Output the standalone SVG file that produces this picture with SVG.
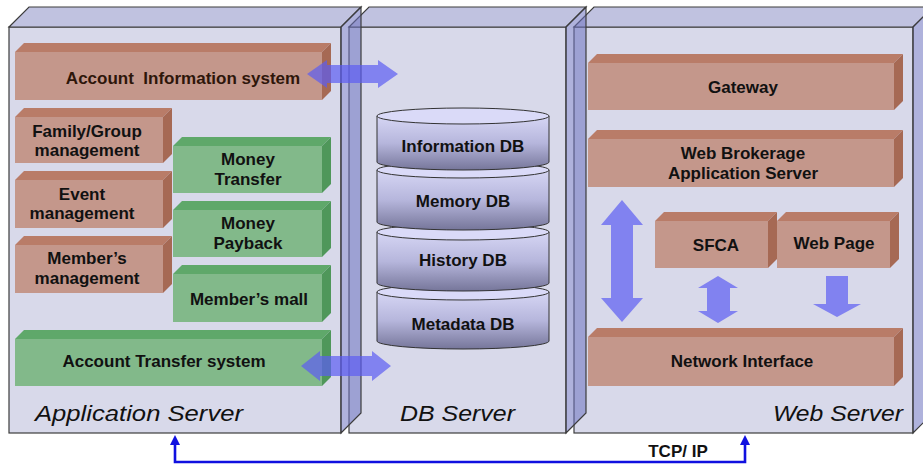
<svg xmlns="http://www.w3.org/2000/svg" width="923" height="465" viewBox="0 0 923 465">
<defs>
<style>
.sf{fill:#D8D9EA;stroke:#3c3c3c;stroke-width:1.2}
.st{fill:#C0C2E0;stroke:#3c3c3c;stroke-width:1.2}
.ss{fill:#6E72C0;fill-opacity:0.55;stroke:#3c3c3c;stroke-width:1.2}
.bf{fill:#C4978B}.bt{fill:#B97C68}.bs{fill:#A66954}
.gf{fill:#82B98A}.gt{fill:#5FA86A}.gs{fill:#4F975A}
.t{font-family:"Liberation Sans",Arial,sans-serif;font-weight:bold;font-size:17px;fill:#111;text-anchor:middle}
.sl{font-family:"Liberation Sans",Arial,sans-serif;font-style:italic;font-size:22px;fill:#111}
.ba{fill:#5C5CF2;fill-opacity:0.7}
.cb{fill:url(#cylg);stroke:#333;stroke-width:1}
.ct{fill:#DADAF8;stroke:#333;stroke-width:1}
</style>
<linearGradient id="cylg" x1="0" y1="0" x2="0" y2="1">
<stop offset="0" stop-color="#D6D6F4"/>
<stop offset="0.5" stop-color="#B6B6DC"/>
<stop offset="1" stop-color="#76769A"/>
</linearGradient>
<marker id="ah" viewBox="0 0 10 10" refX="2" refY="5" markerWidth="10" markerHeight="10" markerUnits="userSpaceOnUse" orient="auto-start-reverse">
<path d="M0,0 L10,5 L0,10 Z" fill="#1010E0"/>
</marker>
</defs>
<rect width="923" height="465" fill="#fff"/>

<g id="web-server">
<rect class="sf" x="574" y="27" width="339" height="406"/>
<polygon class="st" points="574,27 594,7 933,7 913,27"/>
<polygon class="ss" points="913,27 933,7 933,413 913,433"/>
<text class="sl" x="773" y="421" textLength="130" lengthAdjust="spacingAndGlyphs">Web Server</text>
</g>
<g id="db-server">
<rect class="sf" x="349" y="27" width="217" height="406"/>
<polygon class="st" points="349,27 369,7 586,7 566,27"/>
<polygon class="ss" points="566,27 586,7 586,413 566,433"/>
<text class="sl" x="400" y="421" textLength="115" lengthAdjust="spacingAndGlyphs">DB Server</text>
</g>
<g id="app-server">
<rect class="sf" x="9" y="27" width="332" height="406"/>
<polygon class="st" points="9,27 29,7 361,7 341,27"/>
<polygon class="ss" points="341,27 361,7 361,413 341,433"/>
<text class="sl" x="35" y="421" textLength="208" lengthAdjust="spacingAndGlyphs">Application Server</text>
</g>

<g id="account-information-system">
<polygon class="bt" points="15,52 24,43 331,43 322,52"/>
<polygon class="bs" points="322,52 331,43 331,91 322,100"/>
<rect class="bf" x="15" y="52" width="307" height="48"/>
<text class="t" x="183" y="84" style="fill:#2e160a">Account&#160; Information system</text>
</g>
<g id="family-group-management">
<polygon class="bt" points="15,117 24,108 172,108 163,117"/>
<polygon class="bs" points="163,117 172,108 172,154 163,163"/>
<rect class="bf" x="15" y="117" width="148" height="46"/>
<text class="t" x="87" y="137">Family/Group</text>
<text class="t" x="87" y="156">management</text>
</g>
<g id="event-management">
<polygon class="bt" points="15,180 24,171 172,171 163,180"/>
<polygon class="bs" points="163,180 172,171 172,219 163,228"/>
<rect class="bf" x="15" y="180" width="148" height="48"/>
<text class="t" x="82" y="200">Event</text>
<text class="t" x="82" y="219">management</text>
</g>
<g id="members-management">
<polygon class="bt" points="15,245 24,236 172,236 163,245"/>
<polygon class="bs" points="163,245 172,236 172,284 163,293"/>
<rect class="bf" x="15" y="245" width="148" height="48"/>
<text class="t" x="87" y="264">Member’s</text>
<text class="t" x="87" y="284">management</text>
</g>
<g id="money-transfer">
<polygon class="gt" points="173,146 182,137 331,137 322,146"/>
<polygon class="gs" points="322,146 331,137 331,184 322,193"/>
<rect class="gf" x="173" y="146" width="149" height="47"/>
<text class="t" x="248" y="165">Money</text>
<text class="t" x="248" y="185">Transfer</text>
</g>
<g id="money-payback">
<polygon class="gt" points="173,210 182,201 331,201 322,210"/>
<polygon class="gs" points="322,210 331,201 331,248 322,257"/>
<rect class="gf" x="173" y="210" width="149" height="47"/>
<text class="t" x="248" y="229">Money</text>
<text class="t" x="248" y="249">Payback</text>
</g>
<g id="members-mall">
<polygon class="gt" points="173,274 182,265 331,265 322,274"/>
<polygon class="gs" points="322,274 331,265 331,313 322,322"/>
<rect class="gf" x="173" y="274" width="149" height="48"/>
<text class="t" x="249" y="305">Member’s mall</text>
</g>
<g id="account-transfer-system">
<polygon class="gt" points="15,339 24,330 331,330 322,339"/>
<polygon class="gs" points="322,339 331,330 331,377 322,386"/>
<rect class="gf" x="15" y="339" width="307" height="47"/>
<text class="t" x="164" y="367">Account Transfer system</text>
</g>

<g id="metadata-db">
<path class="cb" d="M377,292 V341 A86,8 0 0 0 549,341 V292 Z"/>
<ellipse class="ct" cx="463" cy="292" rx="86" ry="8"/>
<text class="t" x="463" y="330">Metadata DB</text>
</g>
<g id="history-db">
<path class="cb" d="M377,232 V283 A86,8 0 0 0 549,283 V232 Z"/>
<ellipse class="ct" cx="463" cy="232" rx="86" ry="8"/>
<text class="t" x="463" y="266">History DB</text>
</g>
<g id="memory-db">
<path class="cb" d="M377,170 V222 A86,8 0 0 0 549,222 V170 Z"/>
<ellipse class="ct" cx="463" cy="170" rx="86" ry="8"/>
<text class="t" x="463" y="207">Memory DB</text>
</g>
<g id="information-db">
<path class="cb" d="M377,116 V162 A86,8 0 0 0 549,162 V116 Z"/>
<ellipse class="ct" cx="463" cy="116" rx="86" ry="8"/>
<text class="t" x="463" y="152">Information DB</text>
</g>

<g id="gateway">
<polygon class="bt" points="588,63 597,54 903,54 894,63"/>
<polygon class="bs" points="894,63 903,54 903,101 894,110"/>
<rect class="bf" x="588" y="63" width="306" height="47"/>
<text class="t" x="743" y="93">Gateway</text>
</g>
<g id="web-brokerage-application-server">
<polygon class="bt" points="588,139 597,130 903,130 894,139"/>
<polygon class="bs" points="894,139 903,130 903,178 894,187"/>
<rect class="bf" x="588" y="139" width="306" height="48"/>
<text class="t" x="743" y="159">Web Brokerage</text>
<text class="t" x="743" y="179">Application Server</text>
</g>
<g id="sfca">
<polygon class="bt" points="655,221 664,212 777,212 768,221"/>
<polygon class="bs" points="768,221 777,212 777,259 768,268"/>
<rect class="bf" x="655" y="221" width="113" height="47"/>
<text class="t" x="716" y="251">SFCA</text>
</g>
<g id="web-page">
<polygon class="bt" points="777,221 786,212 899,212 890,221"/>
<polygon class="bs" points="890,221 899,212 899,259 890,268"/>
<rect class="bf" x="777" y="221" width="113" height="47"/>
<text class="t" x="834" y="249">Web Page</text>
</g>
<g id="network-interface">
<polygon class="bt" points="588,337 597,328 903,328 894,337"/>
<polygon class="bs" points="894,337 903,328 903,377 894,386"/>
<rect class="bf" x="588" y="337" width="306" height="49"/>
<text class="t" x="742" y="367">Network Interface</text>
</g>

<g id="connectors">
<polygon class="ba" points="307,74 327,60 327,65 378,65 378,60 398,74 378,88 378,83 327,83 327,88"/>
<polygon class="ba" points="301,366 320,351 320,356 372,356 372,351 391,366 372,381 372,376 320,376 320,381"/>
<polygon class="ba" points="622,200 643,225 633,225 633,298 643,298 622,322 601,298 611,298 611,225 601,225"/>
<polygon class="ba" points="718,276 738,288 730,288 730,311 738,311 718,323 698,311 707,311 707,288 698,288"/>
<polygon class="ba" points="826,276 848,276 848,304 861,304 837,317 813,304 826,304"/>
<polyline points="175,443 175,462 745,462 745,443" fill="none" stroke="#1010E0" stroke-width="2.6" marker-start="url(#ah)" marker-end="url(#ah)"/>
<text class="t" x="678" y="457">TCP/ IP</text>
</g>
</svg>
